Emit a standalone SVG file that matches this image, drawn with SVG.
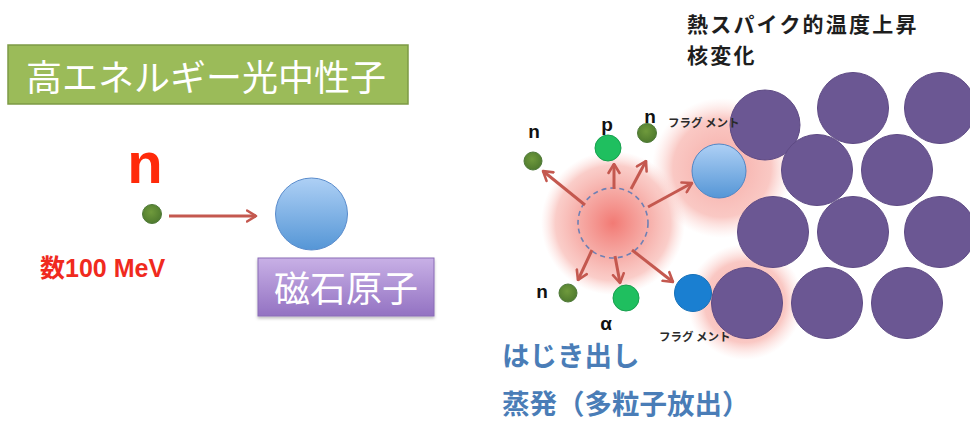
<svg xmlns="http://www.w3.org/2000/svg" width="970" height="428" viewBox="0 0 970 428">
  <style>
    .jp { font-family: "Noto Sans CJK JP", "Noto Sans", sans-serif; }
    .lat { font-family: "Liberation Sans", Arial, sans-serif; font-weight: bold; }
    .lbl { font-family: "Liberation Sans", Arial, sans-serif; font-weight: bold; font-size: 19px; fill: #111; text-anchor: middle; }
    .frag { font-family: "Noto Sans CJK JP", sans-serif; font-size: 11.5px; fill: #2a2a2a; font-weight: bold; }
    .nuc { fill: #6b5793; stroke: #5e4a84; stroke-width: 1; }
    .arr { stroke: #c4584f; stroke-width: 3; fill: none; marker-end: url(#head); }
    .neutron { fill: url(#gNeutron); stroke: #4f7a3a; stroke-width: 1; }
    .green { fill: #1fbf5f; stroke: #17a04e; stroke-width: 1; }
    .note { font-family: "Noto Sans CJK JP", sans-serif; font-size: 27.5px; font-weight: bold; fill: #4a7db7; }
  </style>
  <defs>
    <marker id="head" viewBox="0 0 12 14" refX="10.5" refY="7" markerWidth="12" markerHeight="14" markerUnits="userSpaceOnUse" orient="auto">
      <path d="M1.5,1.5 L10.5,7 L1.5,12.5" fill="none" stroke="#c4584f" stroke-width="2.6" stroke-linecap="round" stroke-linejoin="round"/>
    </marker>
    <linearGradient id="gBlue" x1="0" y1="0" x2="0" y2="1">
      <stop offset="0" stop-color="#aed0f5"/>
      <stop offset="1" stop-color="#5596d6"/>
    </linearGradient>
    <linearGradient id="gPurple" x1="0" y1="0" x2="0" y2="1">
      <stop offset="0" stop-color="#c8b0e6"/>
      <stop offset="1" stop-color="#9372c2"/>
    </linearGradient>
    <radialGradient id="gNeutron" cx="0.45" cy="0.4" r="0.6">
      <stop offset="0" stop-color="#6f9a3c"/>
      <stop offset="1" stop-color="#4f7a2e"/>
    </radialGradient>
    <radialGradient id="gGlow" cx="0.5" cy="0.5" r="0.5">
      <stop offset="0" stop-color="#f27a74" stop-opacity="1"/>
      <stop offset="0.45" stop-color="#f5a09a" stop-opacity="0.9"/>
      <stop offset="0.8" stop-color="#f8b8b2" stop-opacity="0.7"/>
      <stop offset="1" stop-color="#fcd4d0" stop-opacity="0"/>
    </radialGradient>
    <radialGradient id="gGlowSoft" cx="0.5" cy="0.5" r="0.5">
      <stop offset="0" stop-color="#f5a09a" stop-opacity="0.9"/>
      <stop offset="0.7" stop-color="#f8b6b0" stop-opacity="0.75"/>
      <stop offset="1" stop-color="#fcd4d0" stop-opacity="0"/>
    </radialGradient>
    <filter id="shadow" x="-10%" y="-10%" width="120%" height="130%">
      <feDropShadow dx="0" dy="2" stdDeviation="1.5" flood-color="#000" flood-opacity="0.25"/>
    </filter>
  </defs>

  <rect width="970" height="428" fill="#ffffff"/>

  <!-- left panel: incoming neutron -->
  <g id="title-box">
    <rect x="8" y="45" width="400" height="59" fill="#9bbb59" stroke="#7d9a45" stroke-width="1.5"/>
    <text x="206" y="91" class="jp" font-size="36" fill="#ffffff" text-anchor="middle">高エネルギー光中性子</text>
  </g>

  <g id="incident-neutron">
    <text x="145" y="183" class="lat" font-size="58" fill="#ff2a0a" text-anchor="middle">n</text>
    <circle cx="152" cy="214" r="9.5" class="neutron"/>
    <text x="40" y="277" font-size="25" fill="#f02a1e" font-weight="bold" font-family="Liberation Sans, Noto Sans CJK JP, sans-serif">数100 MeV</text>
  </g>

  <g id="magnetic-atom">
    <circle cx="311.5" cy="214" r="36" fill="url(#gBlue)" stroke="#5a8ccc" stroke-width="1"/>
    <rect x="258" y="258" width="176" height="58" fill="url(#gPurple)" stroke="#8a6cb6" stroke-width="1" filter="url(#shadow)"/>
    <text x="346" y="302" class="jp" font-size="36" fill="#ffffff" text-anchor="middle">磁石原子</text>
  </g>

  <!-- right panel: reaction in the lattice -->
  <g id="heading">
    <text x="687" y="32" class="jp" font-size="21" letter-spacing="2.2" font-weight="bold" fill="#1e1e1e">熱スパイク的温度上昇</text>
    <text x="687" y="63" class="jp" font-size="21" letter-spacing="2.2" font-weight="bold" fill="#1e1e1e">核変化</text>
  </g>

  <g id="glows">
    <circle cx="722" cy="168" r="70" fill="url(#gGlowSoft)"/>
    <circle cx="745" cy="302" r="58" fill="url(#gGlowSoft)"/>
    <circle cx="613" cy="223" r="72" fill="url(#gGlow)"/>
  </g>

  <g id="lattice">
    <circle cx="765" cy="125" r="35" class="nuc"/>
    <circle cx="853" cy="108" r="35.5" class="nuc"/>
    <circle cx="940" cy="108" r="35.5" class="nuc"/>
    <circle cx="817" cy="170" r="35.5" class="nuc"/>
    <circle cx="897" cy="170" r="35.5" class="nuc"/>
    <circle cx="773" cy="232" r="35.5" class="nuc"/>
    <circle cx="853" cy="232" r="35.5" class="nuc"/>
    <circle cx="940" cy="232" r="35.5" class="nuc"/>
    <circle cx="747" cy="303" r="35.5" class="nuc"/>
    <circle cx="827" cy="303" r="35.5" class="nuc"/>
    <circle cx="907" cy="303" r="35.5" class="nuc"/>
  </g>

  <g id="hot-nucleus">
    <circle cx="613" cy="223" r="35" fill="none" stroke="#6f80b4" stroke-width="1.6" stroke-dasharray="5 4"/>
  </g>

  <g id="connectors">
    <line x1="169" y1="216" x2="256" y2="216" class="arr"/>
    <line x1="585" y1="205" x2="543" y2="171" class="arr"/>
    <line x1="614" y1="189" x2="614" y2="164" class="arr"/>
    <line x1="631" y1="189" x2="646" y2="161" class="arr"/>
    <line x1="648" y1="207" x2="692" y2="183" class="arr"/>
    <line x1="592" y1="250" x2="578" y2="280" class="arr"/>
    <line x1="615" y1="256" x2="620" y2="283" class="arr"/>
    <line x1="632" y1="250" x2="673" y2="282" class="arr"/>
  </g>

  <g id="n-upper-left">
    <circle cx="533" cy="161" r="9" class="neutron"/>
    <text x="534" y="138" class="lbl">n</text>
  </g>
  <g id="proton">
    <circle cx="608" cy="148" r="13" class="green"/>
    <text x="607" y="131" class="lbl">p</text>
  </g>
  <g id="n-upper-right">
    <circle cx="647" cy="133" r="9.5" class="neutron"/>
    <text x="650" y="123" class="lbl">n</text>
  </g>
  <g id="fragment-upper">
    <circle cx="719" cy="171" r="27" fill="url(#gBlue)" stroke="#4f86c6" stroke-width="1"/>
    <text x="668" y="127" class="frag">フラグ メント</text>
  </g>
  <g id="n-lower">
    <circle cx="568" cy="293" r="9" class="neutron"/>
    <text x="542" y="298" class="lbl">n</text>
  </g>
  <g id="alpha">
    <circle cx="626" cy="298" r="13" class="green"/>
    <text x="606" y="330" class="lbl">α</text>
  </g>
  <g id="fragment-lower">
    <circle cx="693" cy="293" r="18.5" fill="#1a7fd1" stroke="#1670b8" stroke-width="1"/>
    <text x="659" y="341" class="frag">フラグ メント</text>
  </g>

  <g id="notes">
    <text x="502" y="366" class="note">はじき出し</text>
    <text x="502" y="414" class="note">蒸発（多粒子放出）</text>
  </g>
</svg>
